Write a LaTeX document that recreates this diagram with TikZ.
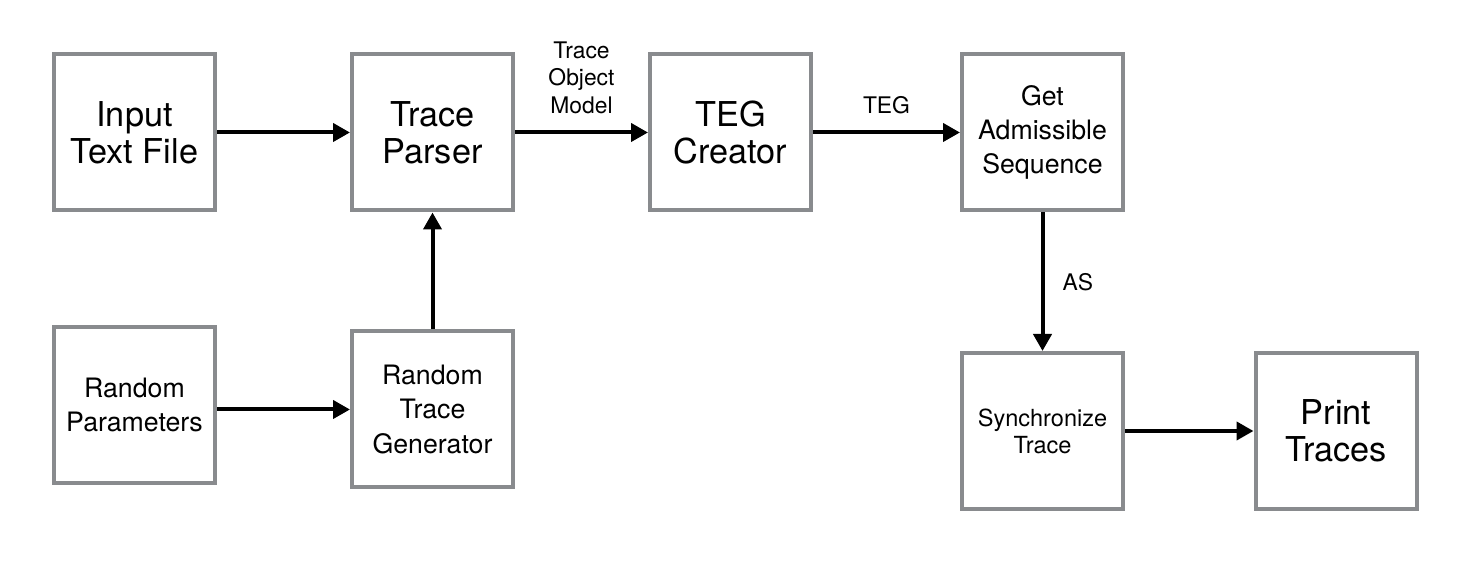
\documentclass[tikz,border=0pt]{standalone}
\usepackage{fontspec}
\setmainfont{TeX Gyre Heros}
\usepackage{xcolor}
\definecolor{boxgray}{HTML}{898B8E}
\usepackage{tikz}
\usetikzlibrary{arrows.meta,positioning}

\begin{document}
\begin{tikzpicture}[
  box/.style={draw=boxgray, line width=0.08cm, fill=white,
              minimum width=3.22cm, minimum height=3.12cm, align=center,
              inner sep=0pt},
  big/.style={font=\fontsize{19.5}{21}\selectfont},
  mid/.style={font=\fontsize{15.2}{19.5}\selectfont},
  small/.style={font=\fontsize{13.4}{15.4}\selectfont},
  lbl/.style={font=\fontsize{13}{15.8}\selectfont, align=center, inner sep=0pt},
  arr/.style={-{Triangle[length=0.34cm, width=0.36cm]}, line width=0.08cm, color=black}
]
  \useasboundingbox (0,0) rectangle (29.48,11.64);

  % top row
  \node[box, big] (input) at (2.69,8.99) {Input\\Text File};
  \node[box, big] (parser) at (8.65,8.99) {Trace\\Parser};
  \node[box, big] (teg) at (14.61,8.99) {TEG\\Creator};
  \node[box, mid] (admiss) at (20.85,8.99) {Get\\Admissible\\Sequence};

  % bottom row
  \node[box, mid] (params) at (2.69,3.54) {Random\\Parameters};
  \node[box, mid] (gen) at (8.65,3.45) {Random\\Trace\\Generator};
  \node[box, small] (sync) at (20.85,3.02) {Synchronize\\Trace};
  \node[box, big] (print) at (26.72,3.02) {Print\\Traces};

  \draw[arr] (input) -- (parser);
  \draw[arr] (parser) -- node[lbl, above=3.3mm] {Trace\\Object\\Model} (teg);
  \draw[arr] (teg) -- node[lbl, above=3.3mm] {TEG} (admiss);
  \draw[arr] (admiss) -- node[lbl, right=3.6mm] {AS} (sync);
  \draw[arr] (params.east |- gen.west) -- (gen.west);
  \draw[arr] (gen) -- (parser);
  \draw[arr] (sync) -- (print);
\end{tikzpicture}
\end{document}
